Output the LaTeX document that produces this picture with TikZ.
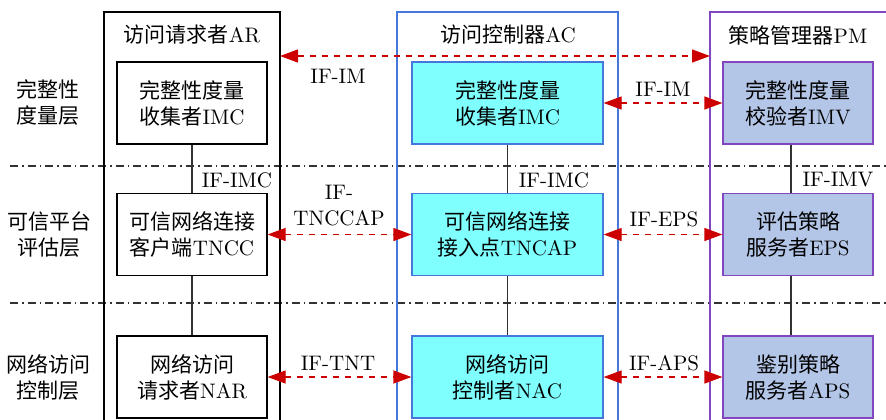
\documentclass[tikz,border=0pt]{standalone}
\usepackage{fontspec}
\newfontfamily\cjk{Noto Sans CJK SC}
\usetikzlibrary{arrows.meta}
\definecolor{acblue}{RGB}{70,120,220}
\definecolor{pmpurple}{RGB}{130,70,190}
\definecolor{cyanfill}{RGB}{128,255,255}
\definecolor{imvfill}{RGB}{180,198,231}
\definecolor{arrred}{RGB}{204,0,0}
\definecolor{linegray}{RGB}{50,50,50}
\begin{document}
\begin{tikzpicture}[x=0.5pt,y=-0.5pt,
  font=\fontsize{10.5}{13}\selectfont,
  box/.style={draw=black,line width=0.6pt,minimum width=75pt,minimum height=41pt,align=center,inner sep=0pt},
  arbox/.style={box},
  acbox/.style={box,draw=acblue,fill=cyanfill,minimum width=95.5pt},
  pmbox/.style={box,draw=pmpurple,fill=imvfill},
  colline/.style={line width=0.6pt},
  layer/.style={draw=linegray,line width=0.6pt,dash pattern=on 4pt off 2pt on 0.8pt off 2pt},
  link/.style={draw=linegray,line width=0.6pt},
  iface/.style={draw=arrred,line width=0.6pt,dashed,{Triangle[length=9pt,width=6.5pt]}-{Triangle[length=9pt,width=6.5pt]}},
  lbl/.style={align=center,inner sep=0pt}
]
\useasboundingbox (0,0) rectangle (886,419);

% layer separators
\draw[layer] (10,166) -- (886,166);
\draw[layer] (10,303) -- (886,303);

% columns
\draw[colline,black] (104,430) -- (104,12) -- (280,12) -- (280,430);
\draw[colline,acblue] (397,430) -- (397,12) -- (618,12) -- (618,430);
\draw[colline,pmpurple] (710,430) -- (710,12) -- (895,12);

% column titles
\node[lbl] (tAR) at (192,35) {{\cjk 访问请求者}AR};
\node[lbl] (tAC) at (508,35) {{\cjk 访问控制器}AC};
\node[lbl] (tPM) at (798,35) {{\cjk 策略管理器}PM};

% layer labels
\node[lbl] (l1) at (48,103) {\cjk 完整性\\\cjk 度量层};
\node[lbl] (l2) at (49,235) {\cjk 可信平台\\\cjk 评估层};
\node[lbl] (l3) at (48,377) {\cjk 网络访问\\\cjk 控制层};

% boxes
\node[arbox] (imcAR) at (192,103) {{\cjk 完整性度量}\\{\cjk 收集者}IMC};
\node[arbox] (tncc) at (192,234.5) {{\cjk 可信网络连接}\\{\cjk 客户端}TNCC};
\node[arbox] (nar) at (192,377) {{\cjk 网络访问}\\{\cjk 请求者}NAR};

\node[acbox] (imcAC) at (507.5,103) {{\cjk 完整性度量}\\{\cjk 收集者}IMC};
\node[acbox] (tncap) at (507.5,234.5) {{\cjk 可信网络连接}\\{\cjk 接入点}TNCAP};
\node[acbox] (nac) at (507.5,377) {{\cjk 网络访问}\\{\cjk 控制者}NAC};

\node[pmbox] (imv) at (798,103) {{\cjk 完整性度量}\\{\cjk 校验者}IMV};
\node[pmbox] (eps) at (798,234.5) {{\cjk 评估策略}\\{\cjk 服务者}EPS};
\node[pmbox] (aps) at (798,377) {{\cjk 鉴别策略}\\{\cjk 服务者}APS};

% vertical links
\draw[link] (imcAR) -- (tncc);
\draw[link] (tncc) -- (nar);
\draw[link] (imcAC) -- (tncap);
\draw[link] (tncap) -- (nac);
\draw[link] (imv.south -| 791,0) -- (eps.north -| 791,0);
\draw[link] (eps.south -| 791,0) -- (aps.north -| 791,0);

\node[lbl] (ifimc1) at (237,180) {IF-IMC};
\node[lbl] (ifimc2) at (554,180) {IF-IMC};
\node[lbl] (ifimv) at (838,180) {IF-IMV};

% interfaces
\coordinate (arR) at (280,56);
\coordinate (pmL) at (710,56);
\draw[iface] (arR) -- (pmL);
\node[lbl] (ifim1) at (338,76) {IF-IM};

\draw[iface] (imcAC.east) -- (imv.west);
\node[lbl] (ifim2) at (663,89) {IF-IM};

\draw[iface] (tncc.east) -- (tncap.west);
\node[lbl] (iftnccap) at (339,206) {IF-\\TNCCAP};
\draw[iface] (tncap.east) -- (eps.west);
\node[lbl] (ifeps) at (664,219) {IF-EPS};

\draw[iface] (nar.east) -- (nac.west);
\node[lbl] (iftnt) at (338,363) {IF-TNT};
\draw[iface] (nac.east) -- (aps.west);
\node[lbl] (ifaps) at (664,363) {IF-APS};
\end{tikzpicture}
\end{document}
